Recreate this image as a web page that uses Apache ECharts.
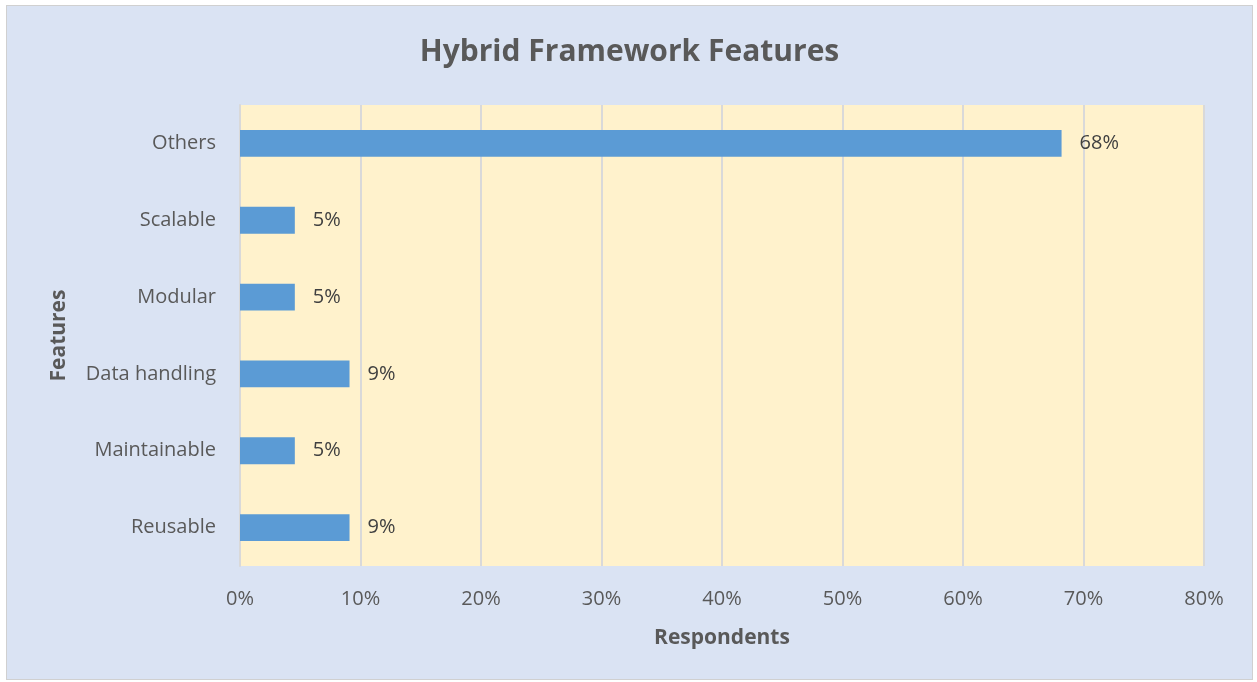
<!DOCTYPE html>
<html>
<head>
<meta charset="utf-8">
<script src="https://cdn.jsdelivr.net/npm/echarts@6/dist/echarts.min.js"></script>
<style>
  html, body { margin: 0; padding: 0; background: #ffffff; }
  #chart { position: absolute; left: 6px; top: 5px; width: 1247px; height: 675px;
           border: 1px solid #d0d0d0; box-sizing: border-box; }
</style>
</head>
<body>
<div id="chart"></div>
<script>
// 数据
var categories = ['Reusable', 'Maintainable', 'Data handling', 'Modular', 'Scalable', 'Others'];
var values = [9.09, 4.55, 9.09, 4.55, 4.55, 68.18];
var xTicks = [0, 10, 20, 30, 40, 50, 60, 70, 80];

var font = 'Open Sans';
var myChart = echarts.init(document.getElementById('chart'));
var option = {
    backgroundColor: '#dae3f3',
    title: {
        text: 'Hybrid Framework Features',
        left: 'center',
        top: 26,
        textStyle: { fontFamily: font, fontSize: 30, fontWeight: 'bold', color: '#595959' }
    },
    grid: {
        left: 233, right: 48, top: 99, bottom: 113,
        show: true, backgroundColor: '#fff2cc', borderWidth: 0
    },
    xAxis: {
        type: 'value',
        min: xTicks[0],
        max: xTicks[xTicks.length - 1],
        interval: 10,
        name: 'Respondents',
        nameLocation: 'middle',
        nameGap: 62,
        nameTextStyle: { fontFamily: font, fontSize: 21, fontWeight: 'bold', color: '#595959' },
        axisLine: { show: false },
        axisTick: { show: false },
        axisLabel: {
            fontFamily: font, fontSize: 20, color: '#595959', margin: 23,
            formatter: function (v) { return v + '%'; }
        },
        splitLine: { show: true, lineStyle: { color: '#d9d9d9', width: 2 } }
    },
    yAxis: {
        type: 'category',
        data: categories,
        name: 'Features',
        nameLocation: 'middle',
        nameGap: 170,
        nameRotate: 90,
        nameTextStyle: { fontFamily: font, fontSize: 21, fontWeight: 'bold', color: '#595959' },
        axisLine: { show: true, lineStyle: { color: '#d9d9d9', width: 2 } },
        axisTick: { show: false },
        axisLabel: { fontFamily: font, fontSize: 20, color: '#595959', margin: 24 }
    },
    series: [{
        type: 'bar',
        data: values,
        barWidth: '35%',
        itemStyle: { color: '#5b9bd5' },
        label: {
            show: true,
            position: 'right',
            distance: 18,
            fontFamily: font, fontSize: 20, color: '#404040',
            formatter: function (p) { return Math.round(p.value) + '%'; }
        },
        silent: true
    }]
};
myChart.setOption(option);
</script>
</body>
</html>
